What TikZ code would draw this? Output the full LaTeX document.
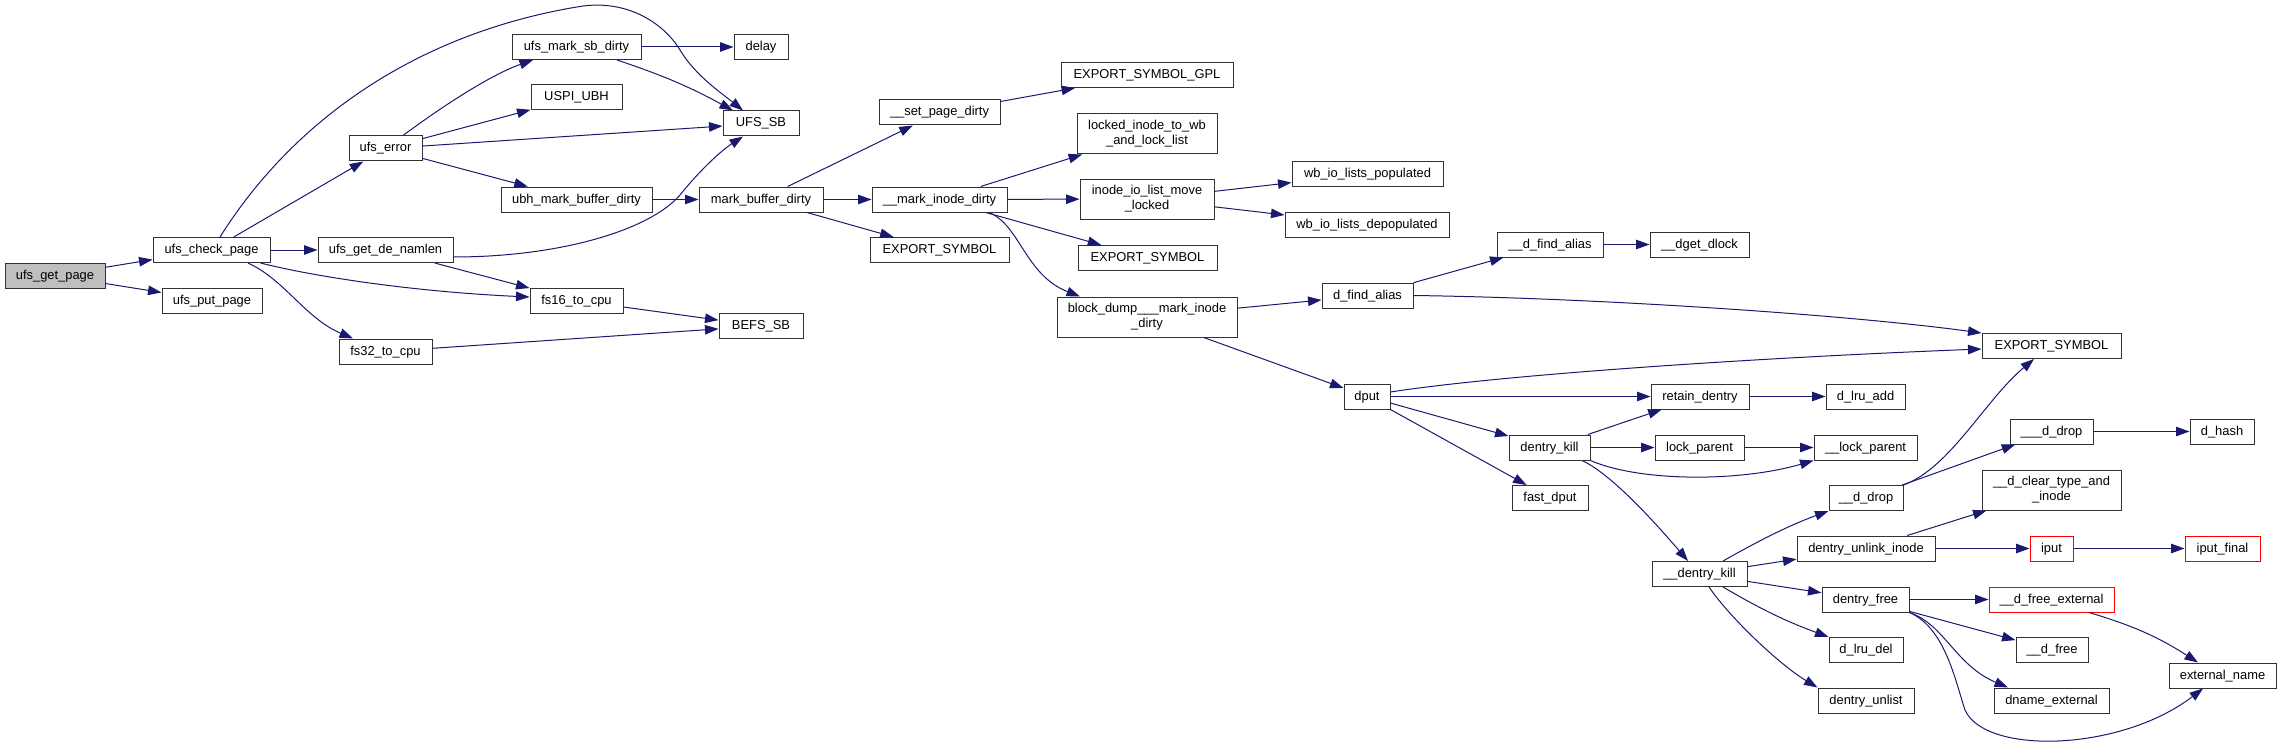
\documentclass[tikz,border=0pt]{standalone}
\usepackage{fontspec}
\setmainfont{Liberation Sans}
\usetikzlibrary{arrows.meta}
\definecolor{edgeblue}{HTML}{191970}
\definecolor{boxline}{HTML}{333333}
\definecolor{hilite}{HTML}{BFBFBF}
\tikzset{
  fn/.style={draw=boxline, line width=1pt, fill=white, rectangle, minimum height=25pt,
    inner xsep=2pt, inner ysep=0pt, text height=9.5pt, text depth=2.5pt,
    font=\fontsize{12.9}{15}\selectfont},
  fntwo/.style={draw=boxline, line width=1pt, fill=white, rectangle, minimum height=40pt,
    inner xsep=2pt, inner ysep=0pt, align=center, font=\fontsize{12.9}{15}\selectfont},
  redfn/.style={fn, draw=red},
  conn/.style={draw=edgeblue, line width=1pt, -{Triangle[length=13.5pt,width=9.5pt]}},
}
\begin{document}
\begin{tikzpicture}[x=1pt,y=-1pt]
\useasboundingbox (0,0) rectangle (2281,749);
% nodes
\node[fn, fill=hilite, minimum width=100pt] (ugp) at (55,275.5) {ufs\_get\_page};
\node[fn, minimum width=117pt] (ucp) at (211.5,250) {ufs\_check\_page};
\node[fn, minimum width=100pt] (upp) at (212,300.5) {ufs\_put\_page};
\node[fn, minimum width=73pt] (ue) at (385.5,148.5) {ufs\_error};
\node[fn, minimum width=135pt] (ugdn) at (385.5,250) {ufs\_get\_de\_namlen};
\node[fn, minimum width=93pt] (fs32) at (385.5,351.5) {fs32\_to\_cpu};
\node[fn, minimum width=129pt] (umsd) at (576.5,47) {ufs\_mark\_sb\_dirty};
\node[fn, minimum width=91pt] (uspi) at (576.5,97.5) {USPI\_UBH};
\node[fn, minimum width=151pt] (ubh) at (576.5,199.5) {ubh\_mark\_buffer\_dirty};
\node[fn, minimum width=93pt] (fs16) at (576.5,300.5) {fs16\_to\_cpu};
\node[fn, minimum width=54pt] (delay) at (761,47) {delay};
\node[fn, minimum width=76pt] (ufssb) at (761,123.5) {UFS\_SB};
\node[fn, minimum width=124pt] (mbd) at (761,199.5) {mark\_buffer\_dirty};
\node[fn, minimum width=84pt] (befs) at (761,326) {BEFS\_SB};
\node[fn, minimum width=121pt] (spd) at (939.5,112.5) {\_\_set\_page\_dirty};
\node[fn, minimum width=135pt] (mid) at (939.5,199.5) {\_\_mark\_inode\_dirty};
\node[fn, minimum width=139pt] (es1) at (939.5,250) {EXPORT\_SYMBOL};
\node[fn, minimum width=172pt] (esgpl) at (1147,75) {EXPORT\_SYMBOL\_GPL};
\node[fntwo, minimum width=140pt] (litw) at (1147,134) {locked\_inode\_to\_wb\\\_and\_lock\_list};
\node[fntwo, minimum width=134pt] (iolm) at (1147,199) {inode\_io\_list\_move\\\_locked};
\node[fn, minimum width=139pt] (es2) at (1147.5,258) {EXPORT\_SYMBOL};
\node[fntwo, minimum width=180pt] (bd) at (1147,317) {block\_dump\_\_\_mark\_inode\\\_dirty};
\node[fn, minimum width=151pt] (wbp) at (1367.5,174) {wb\_io\_lists\_populated};
\node[fn, minimum width=164pt] (wbd) at (1367,224.5) {wb\_io\_lists\_depopulated};
\node[fn, minimum width=91pt] (dfa) at (1367.5,295.5) {d\_find\_alias};
\node[fn, minimum width=46pt] (dput) at (1367,396.5) {dput};
\node[fn, minimum width=106pt] (udfa) at (1550,244.5) {\_\_d\_find\_alias};
\node[fn, minimum width=81pt] (dk) at (1549.5,447.5) {dentry\_kill};
\node[fn, minimum width=76pt] (fdput) at (1550,498) {fast\_dput};
\node[fn, minimum width=99pt] (dget) at (1699.5,244.5) {\_\_dget\_dlock};
\node[fn, minimum width=98pt] (rd) at (1700,396.5) {retain\_dentry};
\node[fn, minimum width=89pt] (lp) at (1699.5,447.5) {lock\_parent};
\node[fn, minimum width=95pt] (udk) at (1699.5,574) {\_\_dentry\_kill};
\node[fn, minimum width=79pt] (dla) at (1865.5,396.5) {d\_lru\_add};
\node[fn, minimum width=103pt] (ulp) at (1865.5,447.5) {\_\_lock\_parent};
\node[fn, minimum width=74pt] (udd) at (1866,498) {\_\_d\_drop};
\node[fn, minimum width=138pt] (dui) at (1866,548.5) {dentry\_unlink\_inode};
\node[fn, minimum width=87pt] (dfree) at (1865.5,599.5) {dentry\_free};
\node[fn, minimum width=74pt] (dld) at (1866,650) {d\_lru\_del};
\node[fn, minimum width=96pt] (dul) at (1866,700.5) {dentry\_unlist};
\node[fn, minimum width=139pt] (es3) at (2051.5,346) {EXPORT\_SYMBOL};
\node[fn, minimum width=83pt] (uudd) at (2051.5,431.5) {\_\_\_d\_drop};
\node[fntwo, minimum width=139pt] (dct) at (2051.5,490) {\_\_d\_clear\_type\_and\\\_inode};
\node[redfn, minimum width=43pt] (iput) at (2051.5,548.5) {iput};
\node[redfn, minimum width=125pt] (dfe) at (2051.5,599.5) {\_\_d\_free\_external};
\node[fn, minimum width=72pt] (udf) at (2052,650) {\_\_d\_free};
\node[fn, minimum width=115pt] (dne) at (2051.5,700.5) {dname\_external};
\node[fn, minimum width=64pt] (dhash) at (2222,431.5) {d\_hash};
\node[redfn, minimum width=75pt] (ipf) at (2222.5,548.5) {iput\_final};
\node[fn, minimum width=107pt] (en) at (2222.5,675.5) {external\_name};
% connectors
\draw[conn] (ugp) -- (ucp);
\draw[conn] (ugp) -- (upp);
\draw[conn] (ucp) -- (ue);
\draw[conn] (ucp) -- (ugdn);
\draw[conn] ([xshift=-10pt]ucp.south east) .. controls (320,278) and (420,292) .. ([yshift=3.5pt]fs16.west);
\draw[conn] ([xshift=36.5pt]ucp.south) .. controls (285,280) and (305,318) .. ([xshift=-32.5pt]fs32.north);
\draw[conn] ([xshift=8.5pt]ucp.north) .. controls (300,110) and (430,30) .. (583,6) .. controls (630,0) and (665,25) .. (680,50) .. controls (695,75) and (720,92) .. ([xshift=-18pt]ufssb.north);
\draw[conn] ([xshift=17.5pt]ue.north) .. controls (440,108) and (490,75) .. ([xshift=-43.5pt]umsd.south);
\draw[conn] (ue) -- (uspi);
\draw[conn] (ue) -- (ufssb);
\draw[conn] (ue) -- (ubh);
\draw[conn] (umsd) -- (delay);
\draw[conn] ([xshift=40.5pt]umsd.south) to[bend left=5] ([xshift=-28pt]ufssb.north);
\draw[conn] (ubh) -- (mbd);
\draw[conn] ([yshift=-7pt]ugdn.east) .. controls (560,257) and (650,230) .. (680,195) .. controls (700,170) and (722,150) .. ([xshift=-18pt]ufssb.south);
\draw[conn] (ugdn) -- (fs16);
\draw[conn] (fs16) -- (befs);
\draw[conn] (fs32) -- (befs);
\draw[conn] (mbd) -- (spd);
\draw[conn] (mbd) -- (mid);
\draw[conn] (mbd) -- (es1);
\draw[conn] (spd) -- (esgpl);
\draw[conn] (mid) -- (litw);
\draw[conn] (mid) -- (iolm);
\draw[conn] (mid) -- (es2);
\draw[conn] ([xshift=49.5pt]mid.south) .. controls (1020,225) and (1025,275) .. ([xshift=-67pt]bd.north);
\draw[conn] (iolm) -- (wbp);
\draw[conn] (iolm) -- (wbd);
\draw[conn] (bd) -- (dfa);
\draw[conn] (bd) -- (dput);
\draw[conn] (dfa) -- (udfa);
\draw[conn] (dfa.east) .. controls (1600,298) and (1850,315) .. (es3.north west);
\draw[conn] (udfa) -- (dget);
\draw[conn] ([yshift=4.5pt]dput.east) .. controls (1500,375) and (1750,358) .. ([yshift=-3pt]es3.west);
\draw[conn] (dput) -- (rd);
\draw[conn] (dput) -- (dk);
\draw[conn] (dput) -- (fdput);
\draw[conn] (rd) -- (dla);
\draw[conn] (dk) -- (rd);
\draw[conn] (dk) -- (lp);
\draw[conn] (dk.south east) .. controls (1640,482) and (1740,482) .. (ulp.south west);
\draw[conn] ([xshift=32.5pt]dk.south) .. controls (1605,471) and (1640,505) .. ([xshift=-11.5pt]udk.north);
\draw[conn] (lp) -- (ulp);
\draw[conn] ([xshift=23.5pt]udk.north) .. controls (1760,540) and (1790,525) .. (udd.south west);
\draw[conn] (udk) -- (dui);
\draw[conn] (udk) -- (dfree);
\draw[conn] ([xshift=23.5pt]udk.south) to[bend right=5] (dld.north west);
\draw[conn] ([xshift=9.5pt]udk.south) .. controls (1730,618) and (1780,665) .. (dul.north west);
\draw[conn] (udd.north east) .. controls (1950,468) and (1985,400) .. ([xshift=-17.5pt]es3.south);
\draw[conn] (udd) -- (uudd);
\draw[conn] (uudd) -- (dhash);
\draw[conn] (dui) -- (dct);
\draw[conn] (dui) -- (iput);
\draw[conn] (iput) -- (ipf);
\draw[conn] (dfree) -- (dfe);
\draw[conn] (dfree) -- (udf);
\draw[conn] (dfree.south east) .. controls (1945,625) and (1955,665) .. ([xshift=-43.5pt]dne.north);
\draw[conn] (dfree.south east) .. controls (1945,628) and (1955,680) .. (1965,710) .. controls (1985,755) and (2120,752) .. ([xshift=-19.5pt]en.south);
\draw[conn] ([xshift=37.5pt]dfe.south) to[bend left=8] ([xshift=-24.5pt]en.north);
\end{tikzpicture}
\end{document}
